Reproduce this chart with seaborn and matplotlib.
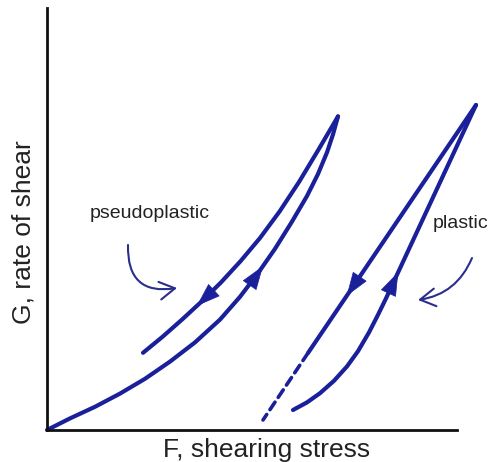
"""Thixotropic hysteresis loops: rate of shear vs shearing stress."""

import matplotlib
matplotlib.use("Agg")

import matplotlib.pyplot as plt
import numpy as np
import pandas as pd
import seaborn as sns
from matplotlib.patches import FancyArrowPatch

# ── Data (F = shearing stress, G = rate of shear, arbitrary units) ──

pseudo_up_f = [0.0, 0.575, 1.2, 1.825, 2.45, 3.075, 3.7, 4.325, 4.825,
               5.275, 5.7, 6.125, 6.5, 6.775, 7.0, 7.15, 7.275]
pseudo_up_g = [0.0, 0.29, 0.58, 0.91, 1.28, 1.71, 2.19, 2.76, 3.33,
               3.92, 4.53, 5.21, 5.85, 6.4, 6.94, 7.39, 7.84]

pseudo_down_f = [7.275, 6.7875, 6.3, 5.8125, 5.325, 4.8375, 4.35, 3.8625,
                 3.375, 2.8875, 2.4]
pseudo_down_g = [7.84, 7.01, 6.2, 5.46, 4.8, 4.22, 3.69, 3.21,
                 2.76, 2.33, 1.93]

plastic_up_f = [6.15, 6.5, 6.825, 7.175, 7.5, 7.775, 8.05, 8.275, 8.475,
                9.95, 10.725]
plastic_up_g = [0.5, 0.69, 0.92, 1.23, 1.59, 1.97, 2.44, 2.88, 3.29,
                6.46, 8.125]

plastic_down_f = [10.725, 6.525]
plastic_down_g = [8.125, 1.925]

# extrapolation of the plastic down curve to the yield value
plastic_extrap_f = [6.525, 5.4]
plastic_extrap_g = [1.925, 0.25]

# G level of the direction arrowheads on each curve
pseudo_up_arrow_g = 4.1
pseudo_down_arrow_g = 3.1
plastic_up_arrow_g = 3.95
plastic_down_arrow_g = 3.35

labels = ["pseudoplastic", "plastic"]
label_f = [2.575, 10.325]
label_g = [5.425, 5.15]

# curved pointer arrows (start, end) for the two labels
pointer_start = [(2.025, 4.625), (10.625, 4.3)]
pointer_end = [(3.25, 3.55), (9.275, 3.25)]
pointer_rad = [0.6, -0.28]

LINE_COLOR = "#1a209a"
POINTER_COLOR = "#2a2e8c"


def add_arrowhead(ax, f, g, g_tip, color):
    """Filled arrowhead on the curve at level g_tip, in drawing order."""
    f = np.asarray(f)
    g = np.asarray(g)
    for i in range(len(g) - 1):
        lo, hi = sorted((g[i], g[i + 1]))
        if lo <= g_tip <= hi:
            t = (g_tip - g[i]) / (g[i + 1] - g[i])
            tip = np.array([f[i] + t * (f[i + 1] - f[i]), g_tip])
            d = np.array([f[i + 1] - f[i], g[i + 1] - g[i]])
            d = d / np.hypot(*d)
            base = tip - 0.45 * d
            ax.annotate(
                "",
                xy=tip,
                xytext=base,
                arrowprops=dict(
                    arrowstyle="-|>,head_length=0.8,head_width=0.28",
                    mutation_scale=20,
                    color=color,
                    lw=0.5,
                    shrinkA=0,
                    shrinkB=0,
                ),
            )
            return


sns.set_style("white")
plt.rcParams["font.family"] = ["Liberation Sans", "DejaVu Sans"]

fig = plt.figure(figsize=(4.96, 4.62), dpi=100)
ax = fig.add_axes([47 / 496, 32 / 462, 440 / 496, 420 / 462])

curves = [
    (pseudo_up_f, pseudo_up_g, pseudo_up_arrow_g),
    (pseudo_down_f, pseudo_down_g, pseudo_down_arrow_g),
    (plastic_up_f, plastic_up_g, plastic_up_arrow_g),
    (plastic_down_f, plastic_down_g, plastic_down_arrow_g),
]
for f, g, g_arrow in curves:
    df = pd.DataFrame({"F": f, "G": g})
    sns.lineplot(data=df, x="F", y="G", sort=False, estimator=None,
                 color=LINE_COLOR, lw=3.0, ax=ax)
    add_arrowhead(ax, f, g, g_arrow, LINE_COLOR)

for ln in ax.lines:
    ln.set_solid_capstyle("round")
    ln.set_solid_joinstyle("round")
    ln.set_clip_on(False)

ext = pd.DataFrame({"F": plastic_extrap_f, "G": plastic_extrap_g})
sns.lineplot(data=ext, x="F", y="G", sort=False, estimator=None,
             color=LINE_COLOR, lw=2.6, dashes=False, ax=ax)
ax.lines[-1].set_dashes([2.5, 1.6])
ax.lines[-1].set_dash_capstyle("round")

for text, f, g in zip(labels, label_f, label_g):
    ax.text(f, g, text, ha="center", va="center", fontsize=14,
            color="#222222")

for start, end, rad in zip(pointer_start, pointer_end, pointer_rad):
    ax.add_patch(FancyArrowPatch(
        start, end,
        connectionstyle=f"arc3,rad={rad}",
        arrowstyle="->,head_length=0.55,head_width=0.32",
        mutation_scale=20,
        color=POINTER_COLOR,
        lw=1.5,
        shrinkA=0,
        shrinkB=0,
    ))

ax.set_xlim(0, 11)
ax.set_ylim(0, 10.5)
ax.set_xticks([])
ax.set_yticks([])
sns.despine(ax=ax)
for side in ("left", "bottom"):
    ax.spines[side].set_linewidth(2.0)
    ax.spines[side].set_color("#111111")
ax.spines["bottom"].set_bounds(0, 10.25)
ax.spines["left"].set_bounds(0, 10.55)

ax.set_xlabel("F, shearing stress", fontsize=19, color="#222222")
ax.set_ylabel("G, rate of shear", fontsize=19, color="#222222")
ax.xaxis.set_label_coords(0.5, -0.018)
ax.xaxis.label.set_va("top")
ax.yaxis.set_label_coords(-0.025, 0.471)

fig.savefig("out.png", dpi=100)
